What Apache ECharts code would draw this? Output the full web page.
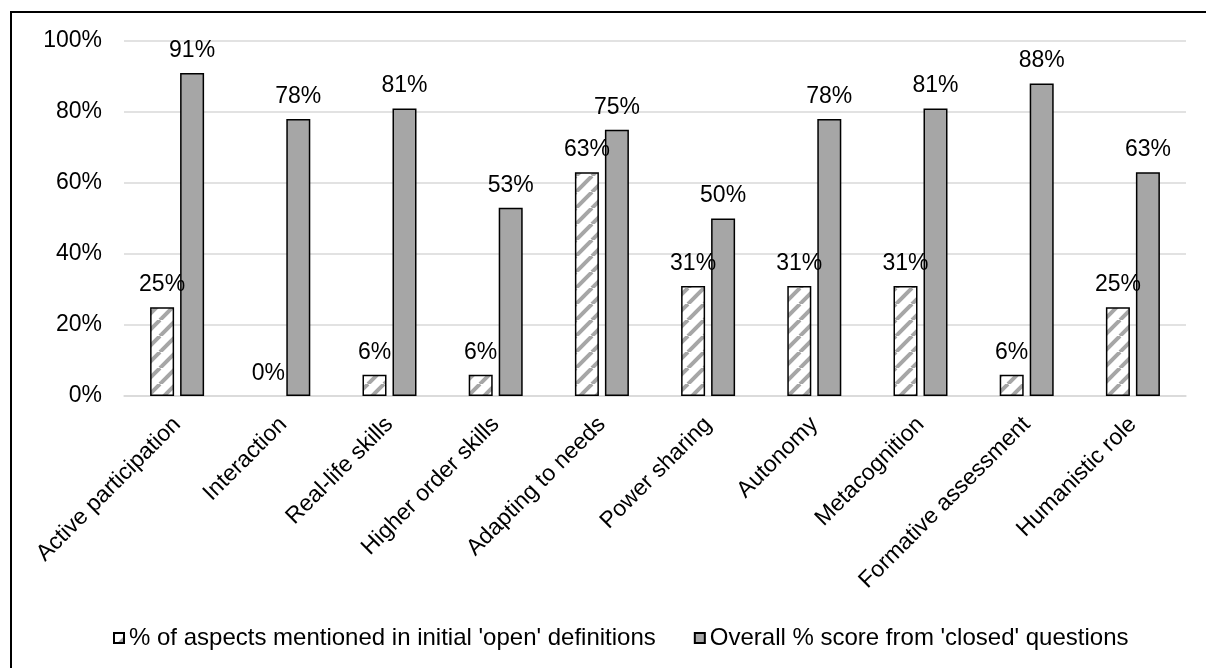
<!DOCTYPE html>
<html>
<head>
<meta charset="utf-8">
<script src="https://cdn.jsdelivr.net/npm/echarts@6/dist/echarts.min.js"></script>
<style>
html,body{margin:0;padding:0;background:#fff;}
#chart{width:1206px;height:668px;}
</style>
</head>
<body>
<div id="chart"></div>
<script>
const categories = ['Active participation','Interaction','Real-life skills','Higher order skills','Adapting to needs','Power sharing','Autonomy','Metacognition','Formative assessment','Humanistic role'];
const openValues = [25, 0, 6, 6, 63, 31, 31, 31, 6, 25];
const closedValues = [91, 78, 81, 53, 75, 50, 78, 81, 88, 63];
const yTicks = [0, 20, 40, 60, 80, 100];
const seriesNames = ["% of aspects mentioned in initial 'open' definitions", "Overall % score from 'closed' questions"];

function makeHatch(){
  const s = 16;
  const c = document.createElement('canvas');
  c.width = s; c.height = s;
  const g = c.getContext('2d');
  g.fillStyle = '#ffffff';
  g.fillRect(0,0,s,s);
  g.strokeStyle = '#a6a6a6';
  g.lineWidth = 4;
  for (const o of [-s, 0, s]) {
    g.beginPath();
    g.moveTo(o, s);
    g.lineTo(o + s, 0);
    g.stroke();
  }
  return c;
}

const chart = echarts.init(document.getElementById('chart'));
const font = "'Liberation Sans', Arial, sans-serif";
const fs = 23;
chart.setOption({
  animation: false,
  textStyle: {fontFamily: font},
  graphic: [{
    type: 'rect',
    shape: {x: 11, y: 12, width: 1300, height: 800},
    style: {fill: 'none', stroke: '#000', lineWidth: 2},
    silent: true
  }],
  grid: {left: 124, right: 20, top: 41, bottom: 272},
  legend: {
    bottom: 13,
    left: 108,
    itemWidth: 10,
    itemHeight: 10,
    itemGap: 38,
    icon: 'rect',
    textStyle: {fontSize: 24, color: '#000', fontFamily: font},
    data: seriesNames
  },
  xAxis: {
    type: 'category',
    data: categories,
    axisLine: {show: true, lineStyle: {color: '#d9d9d9', width: 1.5}},
    axisTick: {show: false},
    axisLabel: {rotate: 45, fontSize: fs, color: '#000', margin: 25, interval: 0, fontFamily: font}
  },
  yAxis: {
    type: 'value',
    min: 0, max: 100, interval: 20,
    axisLine: {show: false},
    axisTick: {show: false},
    splitLine: {lineStyle: {color: '#d9d9d9', width: 1.5}},
    axisLabel: {fontSize: fs, color: '#000', margin: 22, fontFamily: font,
      formatter: v => yTicks.includes(v) ? v + '%' : ''}
  },
  series: [
    {
      name: seriesNames[0],
      type: 'bar',
      data: openValues.map(v => ({value: v, itemStyle: v === 0 ? {borderWidth: 0} : {}})),
      barWidth: 24,
      barGap: '25%',
      itemStyle: {color: {image: makeHatch(), repeat: 'repeat'}, borderColor: '#000', borderWidth: 1.5},
      label: {show: true, position: 'top', distance: 11, formatter: p => p.value + '%', fontSize: fs, color: '#000', fontFamily: font}
    },
    {
      name: seriesNames[1],
      type: 'bar',
      data: closedValues,
      barWidth: 24,
      itemStyle: {color: '#a6a6a6', borderColor: '#000', borderWidth: 1.5},
      label: {show: true, position: 'top', distance: 11, formatter: p => p.value + '%', fontSize: fs, color: '#000', fontFamily: font}
    }
  ]
});
</script>
</body>
</html>
